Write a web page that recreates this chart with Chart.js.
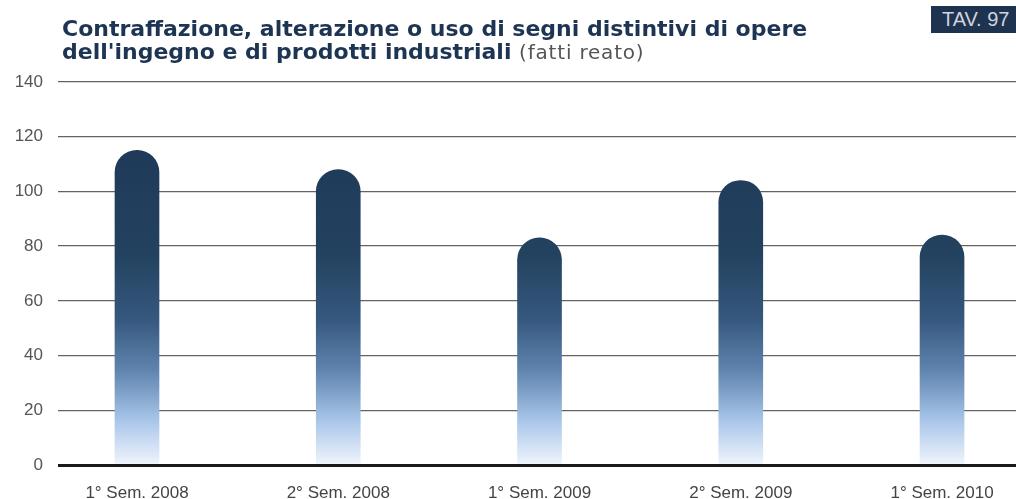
<!DOCTYPE html>
<html lang="it">
<head>
<meta charset="UTF-8">
<title>TAV. 97</title>
<style>
  html, body {
    margin: 0;
    padding: 0;
    background: #fff;
    overflow: hidden;
  }
  #wrap {
    position: relative;
    width: 1016px;
    height: 499px;
  }
  #title {
    position: absolute;
    left: 62px;
    top: 17px;
    font-family: "DejaVu Sans", sans-serif;
    font-weight: bold;
    font-size: 22px;
    line-height: 23px;
    color: #1d3453;
    white-space: nowrap;
  }
  #title span {
    font-weight: normal;
    font-size: 20px;
    letter-spacing: 0.8px;
    color: #555;
  }
  #tav {
    position: absolute;
    left: 931px;
    top: 6px;
    width: 85px;
    height: 27px;
    background: #1e3350;
    color: #cfd4de;
    font-family: "Liberation Sans", Arial, sans-serif;
    font-size: 20px;
    line-height: 27px;
    padding-left: 11px;
    box-sizing: border-box;
  }
  canvas {
    position: absolute;
    left: 0;
    top: 0;
  }
</style>
<script src="https://cdn.jsdelivr.net/npm/chart.js"></script>
</head>
<body>
<div id="wrap">
  <canvas id="chart" width="1016" height="499"></canvas>
  <div id="title">Contraffazione, alterazione o uso di segni distintivi di opere<br>dell'ingegno e di prodotti industriali <span>(fatti reato)</span></div>
  <div id="tav">TAV. 97</div>
</div>

<script>
// data
const categories = ['1° Sem. 2008', '2° Sem. 2008', '1° Sem. 2009', '2° Sem. 2009', '1° Sem. 2010'];
const values = [115, 108, 83, 104, 84];
const yTicks = [0, 20, 40, 60, 80, 100, 120, 140];

function barGradient(context) {
  const area = context.chart.chartArea;
  if (!area) return '#1d3454';
  const g = context.chart.ctx.createLinearGradient(0, area.top, 0, area.bottom);
  g.addColorStop(0, '#1d3556');
  g.addColorStop(0.45, '#23425f');
  g.addColorStop(0.62, '#36587f');
  g.addColorStop(0.75, '#5e83ad');
  g.addColorStop(0.88, '#a6c4e8');
  g.addColorStop(1, '#f0f5fc');
  return g;
}

const ctx = document.getElementById('chart').getContext('2d');
new Chart(ctx, {
  type: 'bar',
  data: {
    datasets: [{
      data: values.map((v, i) => ({x: i, y: v})),
      backgroundColor: barGradient,
      barThickness: 44,
      borderRadius: {topLeft: 22, topRight: 22, bottomLeft: 0, bottomRight: 0},
      borderSkipped: false
    }]
  },
  options: {
    responsive: false,
    animation: false,
    layout: { padding: { top: 82, right: 0, bottom: 0, left: 0 } },
    plugins: {
      legend: { display: false },
      tooltip: { enabled: false }
    },
    scales: {
      x: {
        type: 'linear',
        offset: false,
        min: -0.3925,
        max: 4.3675,
        grid: { display: false },
        border: { display: false },
        ticks: {
          stepSize: 1,
          includeBounds: false,
          padding: 10,
          color: '#444',
          font: { family: 'Liberation Sans', size: 17 },
          callback: v => categories[v]
        },
        afterFit: s => { s.height = 34; }
      },
      y: {
        min: 0,
        max: 140,
        z: 1,
        afterBuildTicks: s => { s.ticks = yTicks.map(v => ({value: v})); },
        grid: {
          drawTicks: false,
          color: ctx => ctx.tick.value === 0 ? '#1a1a1a' : 'rgba(60,60,60,0.8)',
          lineWidth: ctx => ctx.tick.value === 0 ? 3 : 1.3
        },
        border: { display: false },
        ticks: {
          padding: 15,
          color: '#555',
          font: { family: 'Liberation Sans', size: 17 }
        },
        afterFit: s => { s.width = 58; }
      }
    }
  }
});
</script>
</body>
</html>
